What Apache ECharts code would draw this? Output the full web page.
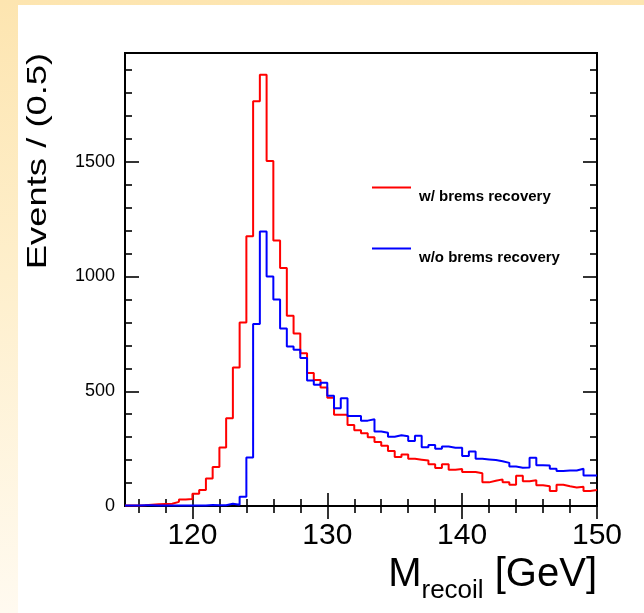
<!DOCTYPE html>
<html>
<head>
<meta charset="utf-8">
<script src="https://cdn.jsdelivr.net/npm/echarts@6/dist/echarts.min.js"></script>
<style>
  html, body { margin:0; padding:0; width:644px; height:613px; overflow:hidden; }
  #bg { position:absolute; left:0; top:0; width:644px; height:613px;
        background:linear-gradient(to bottom,#fde5b0 0%,#feefcc 45%,#fffaf0 100%); }
  #panel { position:absolute; left:18px; top:5px; right:0; bottom:0; background:#ffffff; }
  #main { position:absolute; left:0; top:0; width:644px; height:613px; }
</style>
</head>
<body>
<div id="bg"></div>
<div id="panel"></div>
<div id="main"></div>
<script>
// Bin lower edges (GeV), bin width 0.5
const binEdges = [
  115.0,115.5,116.0,116.5,117.0,117.5,118.0,118.5,119.0,119.5,
  120.0,120.5,121.0,121.5,122.0,122.5,123.0,123.5,124.0,124.5,
  125.0,125.5,126.0,126.5,127.0,127.5,128.0,128.5,129.0,129.5,
  130.0,130.5,131.0,131.5,132.0,132.5,133.0,133.5,134.0,134.5,
  135.0,135.5,136.0,136.5,137.0,137.5,138.0,138.5,139.0,139.5,
  140.0,140.5,141.0,141.5,142.0,142.5,143.0,143.5,144.0,144.5,
  145.0,145.5,146.0,146.5,147.0,147.5,148.0,148.5,149.0,149.5
];
const binUpper = 150.0;

// w/ brems recovery (red)
const withBrems = [
  2,2,3,6,8,9,10,18,28,30,
  53,70,120,170,255,382,604,800,1175,1764,
  1879,1503,1157,1037,829,752,666,580,549,516,
  472,398,398,353,330,317,300,279,263,240,
  214,224,206,202,198,182,166,182,158,161,
  148,148,143,103,110,116,103,93,132,108,
  112,90,86,65,93,86,81,84,65,70
];

// w/o brems recovery (blue)
const withoutBrems = [
  2,2,3,3,2,2,2,2,2,2,
  2,2,4,3,3,10,5,40,211,793,
  1196,1000,900,774,695,681,645,547,528,537,
  480,426,469,392,392,372,378,325,319,302,
  308,304,283,306,256,266,249,259,254,254,
  218,237,206,203,200,195,188,172,167,168,
  210,178,176,162,152,155,155,162,133,133
];

const seriesNames = ['w/ brems recovery', 'w/o brems recovery'];

const xMin = 115, xMax = 150;
const yMin = 0, yMax = 1974;
const xMajorTicks = [120, 130, 140, 150];
const xMinorTicks = [116, 118, 122, 124, 126, 128, 132, 134, 136, 138, 142, 144, 146, 148];
const yMajorTicks = [0, 500, 1000, 1500];
const yMinorTicks = [100, 200, 300, 400, 600, 700, 800, 900, 1100, 1200, 1300, 1400, 1600, 1700, 1800, 1900];

const xTitle = { main: 'M', sub: 'recoil', unit: ' [GeV]' };
const yTitle = 'Events / (0.5)';

function histData(vals) {
  const d = binEdges.map((x, i) => [x, vals[i]]);
  d.push([binUpper, vals[vals.length - 1]]);
  return d;
}

const FONT = 'Liberation Sans, Arial, Helvetica, sans-serif';

function xAxisDef(pos, ticks, len, showLabels) {
  return {
    type: 'value', position: pos, min: xMin, max: xMax,
    axisLine: { show: false },
    splitLine: { show: false },
    axisTick: { show: true, inside: true, length: len, customValues: ticks,
                lineStyle: { color: '#000', width: 1.6 } },
    axisLabel: showLabels ? { show: true, customValues: xMajorTicks, fontSize: 30,
                fontFamily: FONT, color: '#000', margin: 15,
                formatter: v => String(v) } : { show: false }
  };
}
function yAxisDef(pos, ticks, len, showLabels) {
  return {
    type: 'value', position: pos, min: yMin, max: yMax,
    axisLine: { show: false },
    splitLine: { show: false },
    axisTick: { show: true, inside: true, length: len, customValues: ticks,
                lineStyle: { color: '#000', width: 1.6 } },
    axisLabel: showLabels ? { show: true, customValues: yMajorTicks, fontSize: 18,
                fontFamily: FONT, color: '#000', margin: 10,
                formatter: v => String(v) } : { show: false }
  };
}

function legendDef(name, top) {
  return {
    data: [name], left: 372, top: top, orient: 'vertical', padding: 0,
    icon: 'rect', itemWidth: 39, itemHeight: 2, selectedMode: false,
    formatter: n => '{t|' + n + '}',
    textStyle: { color: '#000',
      rich: { t: { fontSize: 15, fontWeight: 'bold', fontFamily: FONT, color: '#000',
                   lineHeight: 16, padding: [18, 0, 0, 3] } } }
  };
}

const chart = echarts.init(document.getElementById('main'), null, { renderer: 'canvas' });
chart.setOption({
  backgroundColor: 'transparent',
  animation: false,
  grid: { left: 125, right: 47, top: 53, bottom: 107, show: true,
          borderColor: '#000', borderWidth: 2, backgroundColor: 'transparent' },
  xAxis: [
    xAxisDef('bottom', xMajorTicks, 13, true),
    xAxisDef('bottom', xMinorTicks, 7, false),
    xAxisDef('top', xMajorTicks, 13, false),
    xAxisDef('top', xMinorTicks, 7, false)
  ],
  yAxis: [
    yAxisDef('left', yMajorTicks, 14, true),
    yAxisDef('left', yMinorTicks, 7, false),
    yAxisDef('right', yMajorTicks, 14, false),
    yAxisDef('right', yMinorTicks, 7, false)
  ],
  legend: [
    legendDef(seriesNames[0], 171),
    legendDef(seriesNames[1], 232)
  ],
  graphic: [
    { type: 'text', right: 47, top: 546, z: 10,
      style: { text: '{m|' + xTitle.main + '}{s|' + xTitle.sub + '}{m|' + xTitle.unit + '}',
               fill: '#000',
               rich: {
                 m: { fontSize: 40, fontFamily: FONT, lineHeight: 60, fill: '#000' },
                 s: { fontSize: 26, fontFamily: FONT, lineHeight: 20, padding: [32, 0, 0, 0], fill: '#000' }
               } } },
    { type: 'text', x: 38, y: 161, rotation: Math.PI / 2, scaleX: 1.3, z: 10,
      style: { text: yTitle, font: '28px ' + FONT, fill: '#000',
               align: 'center', verticalAlign: 'middle' } }
  ],
  series: [
    { name: seriesNames[0], type: 'line', step: 'end', xAxisIndex: 0, yAxisIndex: 0,
      data: histData(withBrems), showSymbol: false, symbol: 'none', color: '#ff0000',
      lineStyle: { color: '#ff0000', width: 2 }, clip: true, z: 3 },
    { name: seriesNames[1], type: 'line', step: 'end', xAxisIndex: 0, yAxisIndex: 0,
      data: histData(withoutBrems), showSymbol: false, symbol: 'none', color: '#0000ff',
      lineStyle: { color: '#0000ff', width: 2 }, clip: true, z: 4 }
  ]
});
</script>
</body>
</html>
